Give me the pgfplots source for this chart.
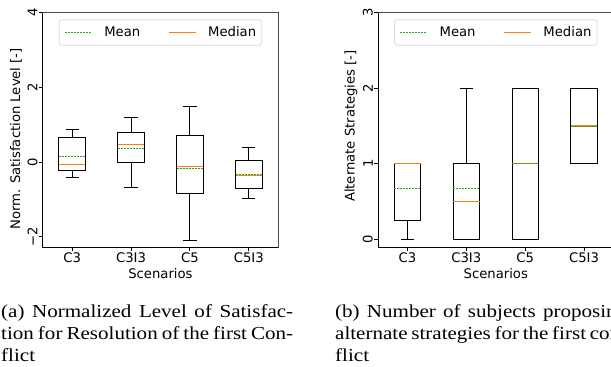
\documentclass[border=0pt]{standalone}
\usepackage{fontspec}
\setmainfont{Liberation Serif}
\setsansfont{DejaVu Sans}
\newfontfamily\capfont[FakeStretch=1.15]{Liberation Serif}
\usepackage{pgfplots}
\pgfplotsset{compat=1.18}
\usepgfplotslibrary{statistics}
\definecolor{mplorange}{HTML}{FF7F0E}
\definecolor{mplgreen}{HTML}{2CA02C}
\newcommand{\mysf}{\sffamily\fontsize{13.2}{15.8}\selectfont}
\pgfplotsset{
  bp/.style={forget plot, black, line width=0.8pt,
    boxplot prepared={draw direction=y, box extend=0.45, whisker extend=0.225,
      every box/.style={black, line width=0.8pt},
      every whisker/.style={black, line width=0.8pt},
      draw/median/.code={},
      draw/average/.code={},
      #1}},
  med/.style={forget plot, mplorange, line width=1.2pt, mark=none},
  avg/.style={forget plot, mplgreen, line width=0.9pt, dash pattern=on 2pt off 1pt, mark=none},
  myaxis/.style={
    scale only axis, width=235.5pt, height=234.6pt,
    anchor=north west,
    xmin=0.5, xmax=4.5,
    xtick={1,2,3,4}, xticklabels={C3,C3I3,C5,C5I3},
    tick pos=left, tick align=outside, major tick length=4pt,
    tick style={black, line width=0.8pt},
    axis line style={black!70, line width=0.8pt},
    after end axis/.code={\draw[black, line width=0.8pt] (rel axis cs:0,1) -- (rel axis cs:0,0) -- (rel axis cs:1,0);},
    /pgf/number format/assume math mode=true,
    tick label style={font=\mysf},
    label style={font=\mysf},
    xticklabel style={anchor=north, inner sep=1pt},
    yticklabel style={rotate=90, anchor=south, inner sep=1pt},
    xlabel={Scenarios},
    xlabel style={at={(axis description cs:0.5,-0.131)}, anchor=base},
    legend columns=2,
    legend style={at={(0.5,0.972)}, anchor=north, draw=black!15, line width=0.8pt,
      rounded corners=2.5pt, fill=white, font=\mysf, inner xsep=5.5pt, inner ysep=7pt,
      nodes={inner sep=0pt},
      /tikz/every odd column/.append style={column sep=11.7pt},
      /tikz/every even column/.append style={column sep=28pt}},
    legend image code/.code={\draw[#1] (0pt,0pt) -- (27pt,0pt);},
  }
}
\begin{document}
\begin{tikzpicture}
\useasboundingbox (0,0) rectangle (611pt,-367pt);
\clip (0,0) rectangle (611pt,-367pt);
\begin{axis}[myaxis, at={(42.7pt,-12.7pt)},
  ymin=-2.284, ymax=4, ytick={-2,0,2,4}, yticklabels={−2,0,2,4},
  ylabel={Norm. Satisfaction Level [-]},
  ylabel style={at={(axis description cs:-0.113,0.462)}, anchor=center}]
\addlegendimage{mplgreen, dash pattern=on 2pt off 1pt, line width=0.9pt}
\addlegendentry{Mean}
\addlegendimage{mplorange, line width=1.2pt}
\addlegendentry{Median}
\addplot[bp={draw position=1, lower whisker=-0.41, lower quartile=-0.23, median=-0.07, upper quartile=0.66, upper whisker=0.88}] coordinates {};
\addplot[bp={draw position=2, lower whisker=-0.68, lower quartile=0.0, median=0.47, upper quartile=0.79, upper whisker=1.2}] coordinates {};
\addplot[bp={draw position=3, lower whisker=-2.11, lower quartile=-0.84, median=-0.11, upper quartile=0.70, upper whisker=1.48}] coordinates {};
\addplot[bp={draw position=4, lower whisker=-0.98, lower quartile=-0.71, median=-0.37, upper quartile=0.04, upper whisker=0.39}] coordinates {};
% medians
\addplot[med] coordinates {(0.775,-0.07) (1.225,-0.07)};
\addplot[med] coordinates {(1.775,0.47) (2.225,0.47)};
\addplot[med] coordinates {(2.775,-0.11) (3.225,-0.11)};
\addplot[med] coordinates {(3.775,-0.37) (4.225,-0.37)};
% means
\addplot[avg] coordinates {(0.775,0.16) (1.225,0.16)};
\addplot[avg] coordinates {(1.775,0.37) (2.225,0.37)};
\addplot[avg] coordinates {(2.775,-0.16) (3.225,-0.16)};
\addplot[avg] coordinates {(3.775,-0.32) (4.225,-0.32)};
\end{axis}
\begin{axis}[myaxis, at={(378pt,-12.7pt)},
  ymin=-0.106, ymax=3, ytick={0,1,2,3}, yticklabels={0,1,2,3},
  ylabel={Alternate Strategies [-]},
  ylabel style={at={(axis description cs:-0.115,0.517)}, anchor=center}]
\addlegendimage{mplgreen, dash pattern=on 2pt off 1pt, line width=0.9pt}
\addlegendentry{Mean}
\addlegendimage{mplorange, line width=1.2pt}
\addlegendentry{Median}
\addplot[bp={draw position=1, lower whisker=0, lower quartile=0.25, median=1, upper quartile=1, upper whisker=1}] coordinates {};
\addplot[bp={draw position=2, lower whisker=0, lower quartile=0, median=0.5, upper quartile=1, upper whisker=2}] coordinates {};
\addplot[bp={draw position=3, lower whisker=0, lower quartile=0, median=1, upper quartile=2, upper whisker=2}] coordinates {};
\addplot[bp={draw position=4, lower whisker=1, lower quartile=1, median=1.5, upper quartile=2, upper whisker=2}] coordinates {};
% medians
\addplot[med] coordinates {(0.775,1) (1.225,1)};
\addplot[med] coordinates {(1.775,0.5) (2.225,0.5)};
\addplot[med] coordinates {(2.775,1) (3.225,1)};
\addplot[med] coordinates {(3.775,1.5) (4.225,1.5)};
% means
\addplot[avg] coordinates {(0.775,0.667) (1.225,0.667)};
\addplot[avg] coordinates {(1.775,0.667) (2.225,0.667)};
\addplot[avg] coordinates {(2.775,1) (3.225,1)};
\addplot[avg] coordinates {(3.775,1.5) (4.225,1.5)};
\end{axis}
\node[anchor=base west, inner sep=0pt, text width=292pt, align=justify, font=\capfont\fontsize{18.3}{22}\selectfont]
  at (1pt,-317pt) {(a) Normalized Level of Satisfac-\linebreak tion for Resolution of the first Con-\linebreak flict};
\node[anchor=base west, inner sep=0pt, text width=292pt, align=justify, font=\capfont\fontsize{18.3}{22}\selectfont]
  at (335pt,-317pt) {(b) Number of subjects proposing\linebreak alternate strategies for the first con-\linebreak flict};
\end{tikzpicture}
\end{document}
